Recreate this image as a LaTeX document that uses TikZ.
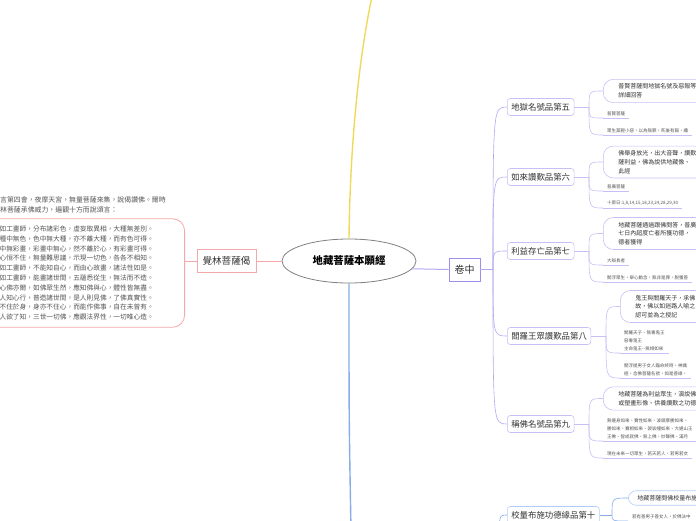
\documentclass[tikz,border=0pt]{standalone}
\usepackage{fontspec}
\setmainfont{Noto Sans CJK TC}
\usetikzlibrary{shapes.geometric, positioning, calc}

\definecolor{pinkline}{HTML}{F3A9A9}
\definecolor{purpline}{HTML}{B3A8F0}
\definecolor{purpbox}{HTML}{9D90EC}
\definecolor{chapline}{HTML}{C7BFF5}
\definecolor{blueline}{HTML}{86ACEA}
\definecolor{bluebox}{HTML}{B2CDF5}
\definecolor{yelline}{HTML}{EFD95A}
\definecolor{inktext}{HTML}{333333}
\definecolor{softtext}{HTML}{555555}

\tikzset{
  hub/.style    = {ellipse, draw = black!50, line width = 0.8pt, fill = white,
                   minimum width = 134pt, minimum height = 44pt, inner sep = 0pt,
                   font = \bfseries\fontsize{10.4}{10.4}\selectfont},
  volbox/.style = {draw = #1, line width = 0.9pt, minimum height = 23pt,
                   inner xsep = 5.5pt, inner ysep = 0pt, text = inktext},
  chap/.style   = {draw = #1, line width = 0.6pt, rounded corners = 3pt,
                   anchor = west, minimum height = 17pt, inner xsep = 4pt,
                   inner ysep = 0pt, text = inktext,
                   font = \fontsize{8.4}{8.4}\selectfont},
  note/.style   = {draw = #1, line width = 0.6pt, rounded corners = 10pt,
                   anchor = west, align = left, text width = 110pt,
                   inner xsep = 15pt, inner ysep = 4.5pt, text = inktext,
                   font = \fontsize{6}{8.7}\selectfont},
  tag/.style    = {anchor = south west, align = left, inner xsep = 4pt,
                   inner ysep = 2pt, text = softtext,
                   font = \fontsize{4.5}{7.8}\selectfont},
  trunk/.style  = {draw = #1, line width = 1.4pt},
  twig/.style   = {draw = #1, line width = 0.6pt}
}

\begin{document}
\begin{tikzpicture}[x=1pt, y=-1pt]
\useasboundingbox (0,0) rectangle (696,520);
\clip (0,0) rectangle (696,520);

% Title
\node[hub] (title) at (349,261) {地藏菩薩本願經};

% Trunks to the volumes above and below
\coordinate (shangend) at (373,-8);
\coordinate (xiaend) at (351,530);
\draw[trunk=yelline] (title.north) .. controls (350,150) and (358,60) .. (shangend);
\draw[trunk=blueline] (title.south) .. controls (349,420) .. (xiaend);

% Left branch
\node[volbox=pinkline, font=\fontsize{9.6}{9.6}\selectfont] (juelin) at (226.5,261) {覺林菩薩偈};
\node[anchor=west, align=left, inner sep=0pt, text=softtext,
      font=\fontsize{6.9}{10}\selectfont] (versehead) at (0,205)
  {言第四會，夜摩天宮，無量菩薩來集，說偈讚佛。爾時\\
   林菩薩承佛威力，遍觀十方而說頌言：};
\node[anchor=east, draw=pinkline, line width=0.8pt, rounded corners=12pt,
      align=left, text width=172pt, inner xsep=13pt, inner ysep=7pt,
      text=softtext, font=\fontsize{6.7}{9.8}\selectfont] (verse) at (185,273)
  {如工畫師，分布諸彩色，虛妄取異相，大種無差別。\\
   種中無色，色中無大種，亦不離大種，而有色可得。\\
   中無彩畫，彩畫中無心，然不離於心，有彩畫可得。\\
   心恒不住，無量難思議，示現一切色，各各不相知。\\
   如工畫師，不能知自心，而由心故畫，諸法性如是。\\
   如工畫師，能畫諸世間，五蘊悉從生，無法而不造。\\
   心佛亦爾，如佛眾生然，應知佛與心，體性皆無盡。\\
   人知心行，普造諸世間，是人則見佛，了佛真實性。\\
   不住於身，身亦不住心，而能作佛事，自在未曾有。\\
   人欲了知，三世一切佛，應觀法界性，一切唯心造。};
\draw[twig=pinkline, line width=0.9pt] (title.west) -- (juelin.east);
\draw[twig=pinkline, line width=0.9pt] (juelin.west) -- (juelin.west -| verse.east);

% Middle volume
\node[volbox=purpbox, font=\fontsize{10}{10}\selectfont] (juanzhong) at (464.5,269.5) {卷中};
\draw[twig=purpline, line width=1pt] (title.-7.5) -- (juanzhong.west);
\coordinate (zhongfork) at (493,269.5);
\draw[twig=purpline, line width=1pt] (juanzhong.east) -- (zhongfork);

% Chapters of the middle volume
\node[chap=chapline] (pin5) at (507,107) {地獄名號品第五};
\node[chap=chapline] (pin6) at (507,177) {如來讚歎品第六};
\node[chap=chapline] (pin7) at (507,251) {利益存亡品第七};
\node[chap=chapline] (pin8) at (507,336) {閻羅王眾讚歎品第八};
\node[chap=chapline] (pin9) at (507,424) {稱佛名號品第九};
\foreach \c in {pin5,pin6,pin7,pin8,pin9}
  \draw[twig=purpline] (zhongfork) .. controls (zhongfork |- \c.west) .. (\c.west);

% Chapter 5
\node[note=chapline] (n5) at (603,91) {普賢菩薩問地獄名號及惡報等\\詳細回答};
\node[tag] (t5a) at (603,118) {普賢菩薩};
\node[tag] (t5b) at (603,135) {眾生莫輕小惡，以為無罪，死後有報，纖};
\coordinate (f5) at (589,107);
\draw[twig=chapline] (pin5.east) -- (f5);
\foreach \c in {n5.west, t5a.south west, t5b.south west}
  \draw[twig=chapline] (f5) .. controls (f5 |- \c) .. (\c);
\foreach \c in {t5a, t5b}
  \draw[twig=chapline] (\c.south west) -- (\c.south east);

% Chapter 6
\node[note=chapline] (n6) at (603,162) {佛舉身放光，出大音聲，讚歎\\薩利益，佛為說供地藏像、\\此經};
\node[tag] (t6a) at (603,191) {普廣菩薩};
\node[tag] (t6b) at (603,208) {十齋日:1,8,14,15,18,23,24,28,29,30};
\coordinate (f6) at (589,177);
\draw[twig=chapline] (pin6.east) -- (f6);
\foreach \c in {n6.west, t6a.south west, t6b.south west}
  \draw[twig=chapline] (f6) .. controls (f6 |- \c) .. (\c);
\foreach \c in {t6a, t6b}
  \draw[twig=chapline] (\c.south west) -- (\c.south east);

% Chapter 7
\node[note=chapline] (n7) at (603,233.5) {地藏菩薩通過跟佛問答，普廣\\七日內超度亡者所獲功德，\\德者獲得};
\node[tag] (t7a) at (603,265) {大辯長者};
\node[tag] (t7b) at (603,282) {閻浮眾生，舉心動念，無非是罪，脫獲善};
\coordinate (f7) at (589,251);
\draw[twig=chapline] (pin7.east) -- (f7);
\foreach \c in {n7.west, t7a.south west, t7b.south west}
  \draw[twig=chapline] (f7) .. controls (f7 |- \c) .. (\c);
\foreach \c in {t7a, t7b}
  \draw[twig=chapline] (\c.south west) -- (\c.south east);

% Chapter 8
\node[note=chapline] (n8) at (620,306.5) {鬼王與閻羅天子，承佛\\故，佛以如迷路人喻之\\認可並為之授記};
\node[tag] (t8a) at (620,353) {閻羅天子、無毒鬼王\\惡毒鬼王\\主命鬼王{-}{-}無相如來};
\node[tag] (t8b) at (620,378) {閻浮提男子女人臨命終時，神識\\經，念佛菩薩名號，如是善緣，};
\coordinate (f8) at (606,336);
\draw[twig=chapline] (pin8.east) -- (f8);
\foreach \c in {n8.west, t8a.south west, t8b.south west}
  \draw[twig=chapline] (f8) .. controls (f8 |- \c) .. (\c);
\foreach \c in {t8a, t8b}
  \draw[twig=chapline] (\c.south west) -- (\c.south east);

% Chapter 9
\node[note=chapline] (n9) at (603,398.5) {地藏菩薩為利益眾生，演說佛\\或塑畫形像、供養讚歎之功德};
\node[tag] (t9a) at (603,441) {無邊身如來、寶性如來、波頭摩勝如來、\\勝如來、寶相如來、袈裟幢如來、大通山王\\王佛、智成就佛、無上佛、妙聲佛、滿月};
\node[tag] (t9b) at (603,458) {現在未來一切眾生，若天若人，若男若女};
\coordinate (f9) at (589,424);
\draw[twig=chapline] (pin9.east) -- (f9);
\foreach \c in {n9.west, t9a.south west, t9b.south west}
  \draw[twig=chapline] (f9) .. controls (f9 |- \c) .. (\c);
\foreach \c in {t9a, t9b}
  \draw[twig=chapline] (\c.south west) -- (\c.south east);

% Chapter 10, from the volume below
\node[chap=bluebox] (pin10) at (507,515) {校量布施功德緣品第十};
\coordinate (xiafork) at (499,545);
\draw[twig=blueline] (xiafork) .. controls (xiafork |- pin10.west) .. (pin10.west);
\node[note=bluebox, inner xsep=9pt, rounded corners=8pt] (n10) at (628,498) {地藏菩薩問佛校量布施};
\node[tag] (t10a) at (628,521) {若有善男子善女人，於佛法中};
\coordinate (f10) at (612,515);
\draw[twig=blueline] (pin10.east) -- (f10);
\foreach \c in {n10.west, t10a.south west}
  \draw[twig=blueline] (f10) .. controls (f10 |- \c) .. (\c);

\end{tikzpicture}
\end{document}
